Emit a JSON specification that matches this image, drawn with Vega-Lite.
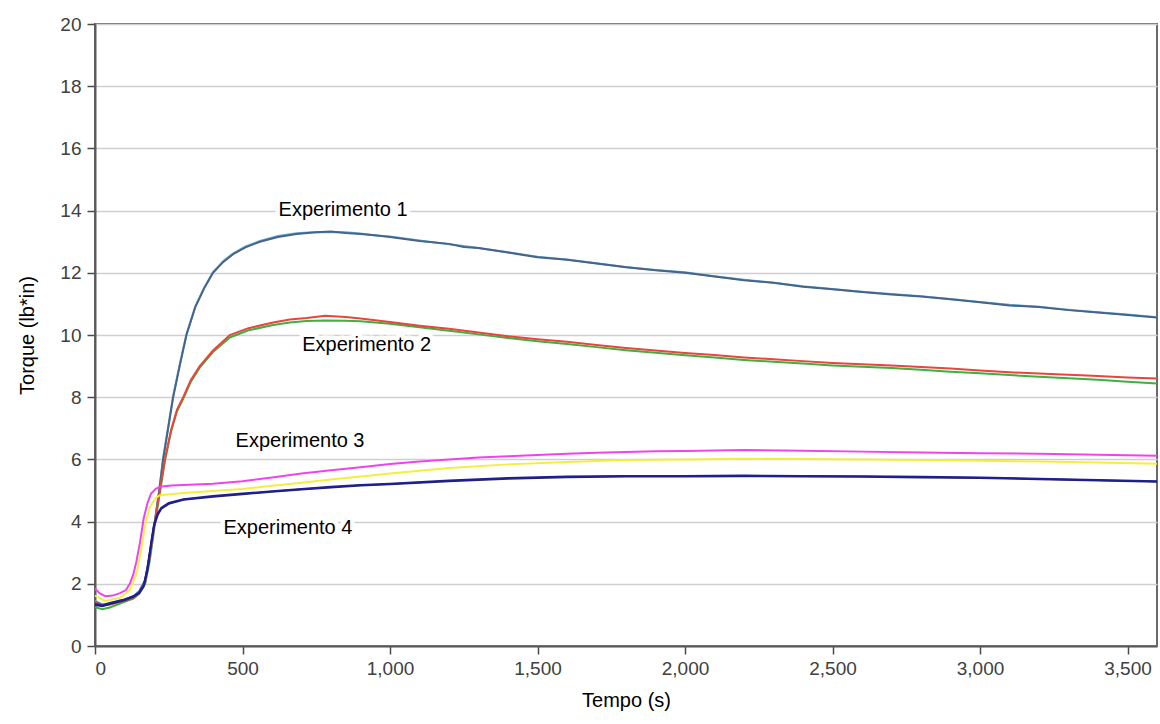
{
  "$schema": "https://vega.github.io/schema/vega-lite/v6.json",
  "width": 1062,
  "height": 622,
  "autosize": {"type": "none"},
  "padding": {"left": 95, "top": 24, "right": 3, "bottom": 78},
  "background": "white",
  "config": {
    "font": "Liberation Sans",
    "view": {"stroke": "#6a6a6a", "strokeWidth": 2},
    "axis": {
      "labelFont": "Liberation Sans",
      "labelFontSize": 19,
      "labelColor": "#404040",
      "titleFont": "Liberation Sans",
      "titleFontSize": 20,
      "titleFontWeight": "normal",
      "titleColor": "#000000",
      "domainColor": "#5a5a5a",
      "domainWidth": 2,
      "tickColor": "#4a4a4a",
      "tickWidth": 1.5,
      "tickSize": 8,
      "labelPadding": 5
    }
  },
  "datasets": {
    "curves": [
      {"s":"e1b","t":0,"v":1.45},{"s":"e1b","t":25,"v":1.34},{"s":"e1b","t":50,"v":1.37},{"s":"e1b","t":100,"v":1.5},{"s":"e1b","t":130,"v":1.6},{"s":"e1b","t":150,"v":1.77},{"s":"e1b","t":170,"v":2.12},{"s":"e1b","t":185,"v":2.95},{"s":"e1b","t":203,"v":4.05},{"s":"e1b","t":218,"v":5.05},{"s":"e1b","t":231,"v":6.05},{"s":"e1b","t":248,"v":7.05},{"s":"e1b","t":265,"v":8.05},{"s":"e1b","t":287,"v":9.05},{"s":"e1b","t":310,"v":10.02},{"s":"e1b","t":340,"v":10.92},{"s":"e1b","t":370,"v":11.52},{"s":"e1b","t":400,"v":12.02},{"s":"e1b","t":435,"v":12.38},{"s":"e1b","t":468,"v":12.62},{"s":"e1b","t":510,"v":12.85},{"s":"e1b","t":559,"v":13.02},{"s":"e1b","t":620,"v":13.18},{"s":"e1b","t":683,"v":13.27},{"s":"e1b","t":750,"v":13.31},{"s":"e1b","t":800,"v":13.3},{"s":"e1b","t":850,"v":13.3},{"s":"e1b","t":900,"v":13.26},{"s":"e1b","t":950,"v":13.2},{"s":"e1b","t":1000,"v":13.17},{"s":"e1b","t":1100,"v":13.04},{"s":"e1b","t":1200,"v":12.92},{"s":"e1b","t":1250,"v":12.86},{"s":"e1b","t":1300,"v":12.8},{"s":"e1b","t":1400,"v":12.66},{"s":"e1b","t":1500,"v":12.52},{"s":"e1b","t":1600,"v":12.43},{"s":"e1b","t":1700,"v":12.31},{"s":"e1b","t":1800,"v":12.19},{"s":"e1b","t":1900,"v":12.09},{"s":"e1b","t":2000,"v":12.02},{"s":"e1b","t":2100,"v":11.89},{"s":"e1b","t":2200,"v":11.78},{"s":"e1b","t":2300,"v":11.68},{"s":"e1b","t":2400,"v":11.57},{"s":"e1b","t":2500,"v":11.48},{"s":"e1b","t":2600,"v":11.39},{"s":"e1b","t":2700,"v":11.32},{"s":"e1b","t":2800,"v":11.25},{"s":"e1b","t":2900,"v":11.16},{"s":"e1b","t":3000,"v":11.06},{"s":"e1b","t":3100,"v":10.97},{"s":"e1b","t":3200,"v":10.91},{"s":"e1b","t":3300,"v":10.81},{"s":"e1b","t":3400,"v":10.73},{"s":"e1b","t":3500,"v":10.66},{"s":"e1b","t":3600,"v":10.57},

      {"s":"e1a","t":0,"v":1.42},{"s":"e1a","t":25,"v":1.32},{"s":"e1a","t":50,"v":1.35},{"s":"e1a","t":100,"v":1.48},{"s":"e1a","t":130,"v":1.58},{"s":"e1a","t":150,"v":1.75},{"s":"e1a","t":170,"v":2.1},{"s":"e1a","t":185,"v":2.9},{"s":"e1a","t":203,"v":4.0},{"s":"e1a","t":218,"v":5.0},{"s":"e1a","t":231,"v":6.0},{"s":"e1a","t":248,"v":7.0},{"s":"e1a","t":265,"v":8.0},{"s":"e1a","t":287,"v":9.0},{"s":"e1a","t":310,"v":10.0},{"s":"e1a","t":340,"v":10.9},{"s":"e1a","t":370,"v":11.5},{"s":"e1a","t":400,"v":12.0},{"s":"e1a","t":435,"v":12.35},{"s":"e1a","t":468,"v":12.6},{"s":"e1a","t":510,"v":12.82},{"s":"e1a","t":559,"v":13.0},{"s":"e1a","t":620,"v":13.15},{"s":"e1a","t":683,"v":13.25},{"s":"e1a","t":750,"v":13.3},{"s":"e1a","t":800,"v":13.33},{"s":"e1a","t":850,"v":13.28},{"s":"e1a","t":900,"v":13.25},{"s":"e1a","t":950,"v":13.21},{"s":"e1a","t":1000,"v":13.15},{"s":"e1a","t":1100,"v":13.02},{"s":"e1a","t":1200,"v":12.93},{"s":"e1a","t":1250,"v":12.83},{"s":"e1a","t":1300,"v":12.8},{"s":"e1a","t":1400,"v":12.65},{"s":"e1a","t":1500,"v":12.5},{"s":"e1a","t":1600,"v":12.42},{"s":"e1a","t":1700,"v":12.3},{"s":"e1a","t":1800,"v":12.18},{"s":"e1a","t":1900,"v":12.08},{"s":"e1a","t":2000,"v":12.0},{"s":"e1a","t":2100,"v":11.88},{"s":"e1a","t":2200,"v":11.76},{"s":"e1a","t":2300,"v":11.68},{"s":"e1a","t":2400,"v":11.55},{"s":"e1a","t":2500,"v":11.47},{"s":"e1a","t":2600,"v":11.38},{"s":"e1a","t":2700,"v":11.3},{"s":"e1a","t":2800,"v":11.24},{"s":"e1a","t":2900,"v":11.15},{"s":"e1a","t":3000,"v":11.05},{"s":"e1a","t":3100,"v":10.95},{"s":"e1a","t":3200,"v":10.9},{"s":"e1a","t":3300,"v":10.8},{"s":"e1a","t":3400,"v":10.72},{"s":"e1a","t":3500,"v":10.64},{"s":"e1a","t":3600,"v":10.56},

      {"s":"e2g","t":0,"v":1.25},{"s":"e2g","t":25,"v":1.18},{"s":"e2g","t":50,"v":1.24},{"s":"e2g","t":100,"v":1.42},{"s":"e2g","t":130,"v":1.52},{"s":"e2g","t":150,"v":1.68},{"s":"e2g","t":170,"v":2.0},{"s":"e2g","t":185,"v":2.7},{"s":"e2g","t":203,"v":3.9},{"s":"e2g","t":220,"v":4.95},{"s":"e2g","t":237,"v":5.95},{"s":"e2g","t":258,"v":6.9},{"s":"e2g","t":278,"v":7.55},{"s":"e2g","t":299,"v":7.95},{"s":"e2g","t":325,"v":8.5},{"s":"e2g","t":355,"v":8.95},{"s":"e2g","t":400,"v":9.45},{"s":"e2g","t":457,"v":9.92},{"s":"e2g","t":520,"v":10.15},{"s":"e2g","t":604,"v":10.32},{"s":"e2g","t":660,"v":10.4},{"s":"e2g","t":717,"v":10.45},{"s":"e2g","t":780,"v":10.47},{"s":"e2g","t":850,"v":10.46},{"s":"e2g","t":900,"v":10.44},{"s":"e2g","t":1000,"v":10.36},{"s":"e2g","t":1100,"v":10.25},{"s":"e2g","t":1200,"v":10.14},{"s":"e2g","t":1300,"v":10.02},{"s":"e2g","t":1400,"v":9.9},{"s":"e2g","t":1500,"v":9.8},{"s":"e2g","t":1600,"v":9.71},{"s":"e2g","t":1700,"v":9.61},{"s":"e2g","t":1800,"v":9.51},{"s":"e2g","t":1900,"v":9.43},{"s":"e2g","t":2000,"v":9.35},{"s":"e2g","t":2100,"v":9.28},{"s":"e2g","t":2200,"v":9.2},{"s":"e2g","t":2300,"v":9.14},{"s":"e2g","t":2400,"v":9.08},{"s":"e2g","t":2500,"v":9.02},{"s":"e2g","t":2600,"v":8.98},{"s":"e2g","t":2700,"v":8.94},{"s":"e2g","t":2800,"v":8.88},{"s":"e2g","t":2900,"v":8.82},{"s":"e2g","t":3000,"v":8.77},{"s":"e2g","t":3100,"v":8.71},{"s":"e2g","t":3200,"v":8.66},{"s":"e2g","t":3300,"v":8.61},{"s":"e2g","t":3400,"v":8.56},{"s":"e2g","t":3500,"v":8.5},{"s":"e2g","t":3600,"v":8.44},

      {"s":"e2r","t":0,"v":1.4},{"s":"e2r","t":25,"v":1.3},{"s":"e2r","t":50,"v":1.33},{"s":"e2r","t":100,"v":1.45},{"s":"e2r","t":130,"v":1.55},{"s":"e2r","t":150,"v":1.72},{"s":"e2r","t":170,"v":2.05},{"s":"e2r","t":185,"v":2.8},{"s":"e2r","t":203,"v":4.0},{"s":"e2r","t":220,"v":5.0},{"s":"e2r","t":237,"v":6.0},{"s":"e2r","t":258,"v":6.95},{"s":"e2r","t":278,"v":7.6},{"s":"e2r","t":299,"v":8.0},{"s":"e2r","t":325,"v":8.55},{"s":"e2r","t":355,"v":9.0},{"s":"e2r","t":400,"v":9.5},{"s":"e2r","t":457,"v":10.0},{"s":"e2r","t":520,"v":10.22},{"s":"e2r","t":604,"v":10.4},{"s":"e2r","t":660,"v":10.5},{"s":"e2r","t":717,"v":10.55},{"s":"e2r","t":780,"v":10.62},{"s":"e2r","t":850,"v":10.58},{"s":"e2r","t":900,"v":10.53},{"s":"e2r","t":1000,"v":10.42},{"s":"e2r","t":1100,"v":10.3},{"s":"e2r","t":1200,"v":10.2},{"s":"e2r","t":1300,"v":10.08},{"s":"e2r","t":1400,"v":9.96},{"s":"e2r","t":1500,"v":9.86},{"s":"e2r","t":1600,"v":9.78},{"s":"e2r","t":1700,"v":9.68},{"s":"e2r","t":1800,"v":9.58},{"s":"e2r","t":1900,"v":9.5},{"s":"e2r","t":2000,"v":9.42},{"s":"e2r","t":2100,"v":9.36},{"s":"e2r","t":2200,"v":9.28},{"s":"e2r","t":2300,"v":9.22},{"s":"e2r","t":2400,"v":9.16},{"s":"e2r","t":2500,"v":9.1},{"s":"e2r","t":2600,"v":9.06},{"s":"e2r","t":2700,"v":9.02},{"s":"e2r","t":2800,"v":8.97},{"s":"e2r","t":2900,"v":8.92},{"s":"e2r","t":3000,"v":8.86},{"s":"e2r","t":3100,"v":8.8},{"s":"e2r","t":3200,"v":8.76},{"s":"e2r","t":3300,"v":8.72},{"s":"e2r","t":3400,"v":8.68},{"s":"e2r","t":3500,"v":8.63},{"s":"e2r","t":3600,"v":8.6},

      {"s":"e3y","t":0,"v":1.62},{"s":"e3y","t":35,"v":1.45},{"s":"e3y","t":85,"v":1.55},{"s":"e3y","t":118,"v":1.8},{"s":"e3y","t":140,"v":2.3},{"s":"e3y","t":155,"v":3.0},{"s":"e3y","t":170,"v":3.9},{"s":"e3y","t":185,"v":4.45},{"s":"e3y","t":205,"v":4.75},{"s":"e3y","t":220,"v":4.85},{"s":"e3y","t":300,"v":4.92},{"s":"e3y","t":400,"v":4.98},{"s":"e3y","t":500,"v":5.05},{"s":"e3y","t":600,"v":5.15},{"s":"e3y","t":700,"v":5.25},{"s":"e3y","t":800,"v":5.35},{"s":"e3y","t":900,"v":5.45},{"s":"e3y","t":1000,"v":5.55},{"s":"e3y","t":1200,"v":5.72},{"s":"e3y","t":1400,"v":5.84},{"s":"e3y","t":1600,"v":5.92},{"s":"e3y","t":1800,"v":5.98},{"s":"e3y","t":2000,"v":6.0},{"s":"e3y","t":2200,"v":6.02},{"s":"e3y","t":2400,"v":6.01},{"s":"e3y","t":2600,"v":6.0},{"s":"e3y","t":2800,"v":5.98},{"s":"e3y","t":3000,"v":5.96},{"s":"e3y","t":3200,"v":5.93},{"s":"e3y","t":3400,"v":5.9},{"s":"e3y","t":3600,"v":5.86},

      {"s":"e3m","t":0,"v":1.85},{"s":"e3m","t":15,"v":1.7},{"s":"e3m","t":35,"v":1.6},{"s":"e3m","t":60,"v":1.62},{"s":"e3m","t":85,"v":1.7},{"s":"e3m","t":105,"v":1.8},{"s":"e3m","t":118,"v":2.0},{"s":"e3m","t":130,"v":2.3},{"s":"e3m","t":140,"v":2.7},{"s":"e3m","t":152,"v":3.3},{"s":"e3m","t":165,"v":4.1},{"s":"e3m","t":178,"v":4.6},{"s":"e3m","t":190,"v":4.9},{"s":"e3m","t":205,"v":5.05},{"s":"e3m","t":220,"v":5.12},{"s":"e3m","t":260,"v":5.16},{"s":"e3m","t":300,"v":5.18},{"s":"e3m","t":400,"v":5.22},{"s":"e3m","t":500,"v":5.3},{"s":"e3m","t":600,"v":5.42},{"s":"e3m","t":700,"v":5.55},{"s":"e3m","t":800,"v":5.65},{"s":"e3m","t":900,"v":5.75},{"s":"e3m","t":1000,"v":5.85},{"s":"e3m","t":1100,"v":5.93},{"s":"e3m","t":1200,"v":6.0},{"s":"e3m","t":1300,"v":6.06},{"s":"e3m","t":1400,"v":6.1},{"s":"e3m","t":1500,"v":6.14},{"s":"e3m","t":1600,"v":6.18},{"s":"e3m","t":1700,"v":6.21},{"s":"e3m","t":1800,"v":6.24},{"s":"e3m","t":1900,"v":6.26},{"s":"e3m","t":2000,"v":6.27},{"s":"e3m","t":2200,"v":6.3},{"s":"e3m","t":2400,"v":6.28},{"s":"e3m","t":2600,"v":6.25},{"s":"e3m","t":2800,"v":6.22},{"s":"e3m","t":3000,"v":6.2},{"s":"e3m","t":3200,"v":6.18},{"s":"e3m","t":3400,"v":6.15},{"s":"e3m","t":3600,"v":6.12},

      {"s":"e4b","t":0,"v":1.32},{"s":"e4b","t":25,"v":1.28},{"s":"e4b","t":50,"v":1.35},{"s":"e4b","t":100,"v":1.47},{"s":"e4b","t":130,"v":1.58},{"s":"e4b","t":150,"v":1.7},{"s":"e4b","t":165,"v":1.92},{"s":"e4b","t":178,"v":2.45},{"s":"e4b","t":190,"v":3.25},{"s":"e4b","t":200,"v":3.85},{"s":"e4b","t":212,"v":4.2},{"s":"e4b","t":225,"v":4.42},{"s":"e4b","t":250,"v":4.57},{"s":"e4b","t":300,"v":4.7},{"s":"e4b","t":400,"v":4.8},{"s":"e4b","t":500,"v":4.88},{"s":"e4b","t":600,"v":4.96},{"s":"e4b","t":700,"v":5.03},{"s":"e4b","t":800,"v":5.1},{"s":"e4b","t":900,"v":5.16},{"s":"e4b","t":1000,"v":5.2},{"s":"e4b","t":1200,"v":5.3},{"s":"e4b","t":1400,"v":5.38},{"s":"e4b","t":1600,"v":5.43},{"s":"e4b","t":1800,"v":5.45},{"s":"e4b","t":2000,"v":5.45},{"s":"e4b","t":2200,"v":5.46},{"s":"e4b","t":2400,"v":5.45},{"s":"e4b","t":2600,"v":5.44},{"s":"e4b","t":2800,"v":5.42},{"s":"e4b","t":3000,"v":5.4},{"s":"e4b","t":3200,"v":5.36},{"s":"e4b","t":3400,"v":5.32},{"s":"e4b","t":3600,"v":5.28},

      {"s":"e4a","t":0,"v":1.35},{"s":"e4a","t":25,"v":1.3},{"s":"e4a","t":50,"v":1.38},{"s":"e4a","t":100,"v":1.5},{"s":"e4a","t":130,"v":1.6},{"s":"e4a","t":150,"v":1.72},{"s":"e4a","t":165,"v":1.95},{"s":"e4a","t":178,"v":2.5},{"s":"e4a","t":190,"v":3.3},{"s":"e4a","t":200,"v":3.9},{"s":"e4a","t":212,"v":4.25},{"s":"e4a","t":225,"v":4.45},{"s":"e4a","t":250,"v":4.6},{"s":"e4a","t":300,"v":4.72},{"s":"e4a","t":400,"v":4.82},{"s":"e4a","t":500,"v":4.9},{"s":"e4a","t":600,"v":4.98},{"s":"e4a","t":700,"v":5.05},{"s":"e4a","t":800,"v":5.12},{"s":"e4a","t":900,"v":5.18},{"s":"e4a","t":1000,"v":5.22},{"s":"e4a","t":1200,"v":5.32},{"s":"e4a","t":1400,"v":5.4},{"s":"e4a","t":1600,"v":5.45},{"s":"e4a","t":1800,"v":5.47},{"s":"e4a","t":2000,"v":5.47},{"s":"e4a","t":2200,"v":5.48},{"s":"e4a","t":2400,"v":5.47},{"s":"e4a","t":2600,"v":5.46},{"s":"e4a","t":2800,"v":5.44},{"s":"e4a","t":3000,"v":5.42},{"s":"e4a","t":3200,"v":5.38},{"s":"e4a","t":3400,"v":5.34},{"s":"e4a","t":3600,"v":5.3}
    ],
    "labels": [
      {"label":"Experimento 1","t":841,"v":14.02},
      {"label":"Experimento 2","t":921,"v":9.68},
      {"label":"Experimento 3","t":695,"v":6.59},
      {"label":"Experimento 4","t":654,"v":3.79}
    ]
  },
  "layer": [
    {
      "data": {"name": "curves"},
      "mark": {"type": "line", "strokeWidth": 2, "clip": true},
      "encoding": {
        "x": {
          "field": "t", "type": "quantitative",
          "scale": {"domain": [0, 3600], "nice": false},
          "axis": {"values": [0,500,1000,1500,2000,2500,3000,3500], "format": ",d", "grid": false, "title": "Tempo (s)", "titlePadding": 12}
        },
        "y": {
          "field": "v", "type": "quantitative",
          "scale": {"domain": [0, 20], "nice": false},
          "axis": {"values": [0,2,4,6,8,10,12,14,16,18,20], "format": "d", "grid": true, "gridColor": "#cfcfcf", "gridWidth": 1.5, "title": "Torque (lb*in)", "titlePadding": 22, "labelPadding": 6}
        },
        "color": {
          "field": "s", "type": "nominal",
          "scale": {
            "domain": ["e1b","e1a","e2g","e2r","e3y","e3m","e4b","e4a"],
            "range": ["#6aaed0","#46648a","#3cb043","#e8463a","#f4ee40","#ee44ee","#26265c","#1e1e96"]
          },
          "legend": null
        },
        "order": {"field": "t", "type": "quantitative"}
      }
    },
    {
      "data": {"name": "labels"},
      "mark": {"type": "text", "fontSize": 20, "font": "Liberation Sans", "stroke": "white", "strokeWidth": 9, "strokeJoin": "round", "align": "center", "baseline": "middle"},
      "encoding": {
        "x": {"field": "t", "type": "quantitative"},
        "y": {"field": "v", "type": "quantitative"},
        "text": {"field": "label"}
      }
    },
    {
      "data": {"name": "labels"},
      "mark": {"type": "text", "fontSize": 20, "font": "Liberation Sans", "color": "#000000", "align": "center", "baseline": "middle"},
      "encoding": {
        "x": {"field": "t", "type": "quantitative"},
        "y": {"field": "v", "type": "quantitative"},
        "text": {"field": "label"}
      }
    }
  ]
}
